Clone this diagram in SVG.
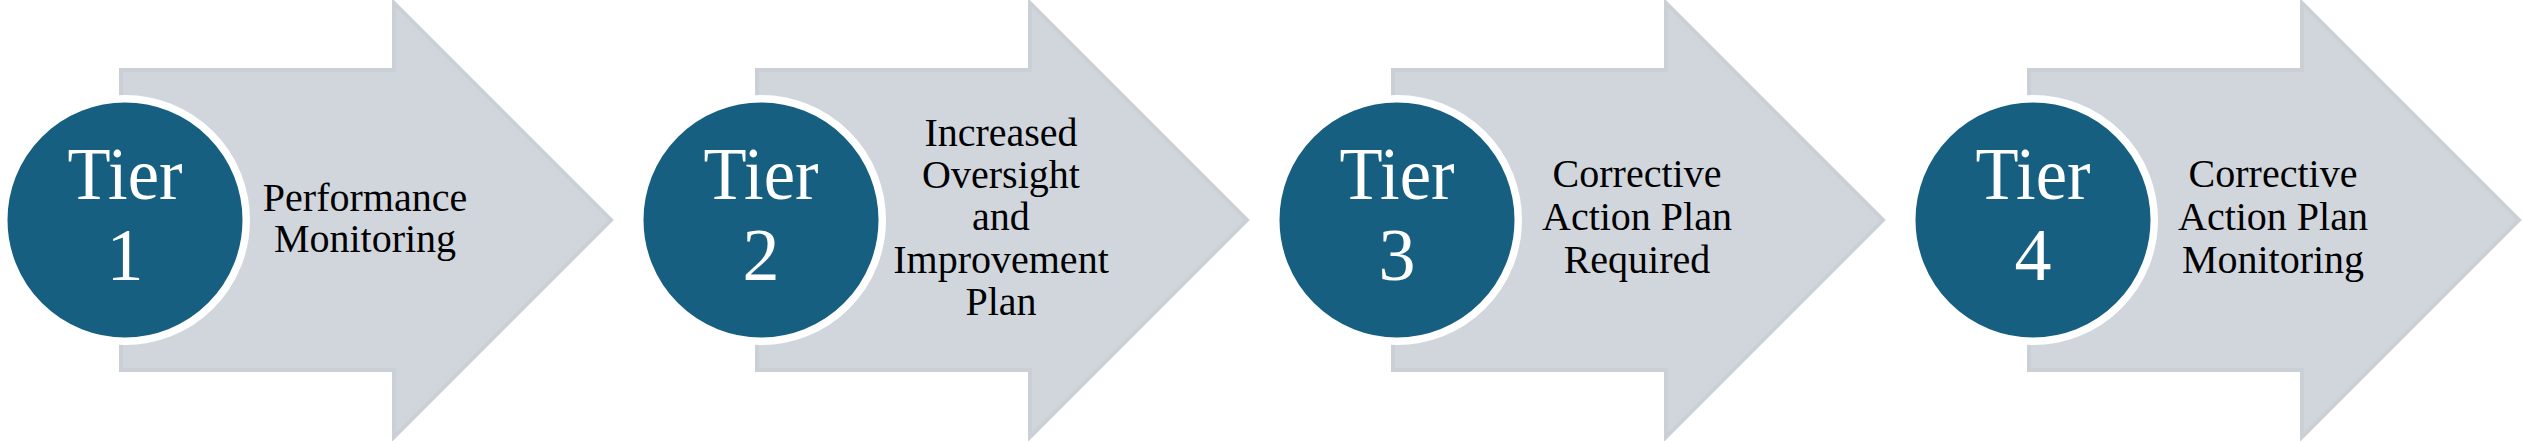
<svg xmlns="http://www.w3.org/2000/svg" width="2524" height="441" viewBox="0 0 2524 441">
<defs>
<style>
.arrow{fill:#D1D6DD;stroke:#CBD0D7;stroke-width:4;stroke-linejoin:miter}
.disc{fill:#165F80;stroke:#FFFFFF;stroke-width:7.5}
.tier{font-family:"Liberation Serif","Times New Roman",serif;font-size:74px;fill:#FFFFFF;text-anchor:middle}
.lbl{font-family:"Liberation Serif","Times New Roman",serif;font-size:40px;fill:#000000;text-anchor:middle}
</style>
<path id="arrowShape" class="arrow" d="M121,70 L394,70 L394,3 L611,220 L394,437 L394,370 L121,370 Z"/>
</defs>
<rect width="2524" height="441" fill="#FFFFFF"/>
<g id="connectors"></g>
<g id="tier1">
<use href="#arrowShape"/>
<circle class="disc" cx="125" cy="220" r="121.25"/>
<text class="tier" x="125" y="199" textLength="115" lengthAdjust="spacingAndGlyphs">Tier</text>
<text class="tier" x="125" y="280">1</text>
<text class="lbl" x="365" y="211">Performance</text>
<text class="lbl" x="365" y="252">Monitoring</text>
</g>
<g id="tier2">
<use href="#arrowShape" x="636"/>
<circle class="disc" cx="761" cy="220" r="121.25"/>
<text class="tier" x="761" y="199" textLength="115" lengthAdjust="spacingAndGlyphs">Tier</text>
<text class="tier" x="761" y="280">2</text>
<text class="lbl" x="1001" y="146">Increased</text>
<text class="lbl" x="1001" y="188">Oversight</text>
<text class="lbl" x="1001" y="230">and</text>
<text class="lbl" x="1001" y="273">Improvement</text>
<text class="lbl" x="1001" y="315">Plan</text>
</g>
<g id="tier3">
<use href="#arrowShape" x="1272"/>
<circle class="disc" cx="1397" cy="220" r="121.25"/>
<text class="tier" x="1397" y="199" textLength="115" lengthAdjust="spacingAndGlyphs">Tier</text>
<text class="tier" x="1397" y="280">3</text>
<text class="lbl" x="1637" y="187">Corrective</text>
<text class="lbl" x="1637" y="230">Action Plan</text>
<text class="lbl" x="1637" y="273">Required</text>
</g>
<g id="tier4">
<use href="#arrowShape" x="1908"/>
<circle class="disc" cx="2033" cy="220" r="121.25"/>
<text class="tier" x="2033" y="199" textLength="115" lengthAdjust="spacingAndGlyphs">Tier</text>
<text class="tier" x="2033" y="280">4</text>
<text class="lbl" x="2273" y="187">Corrective</text>
<text class="lbl" x="2273" y="230">Action Plan</text>
<text class="lbl" x="2273" y="273">Monitoring</text>
</g>
</svg>
